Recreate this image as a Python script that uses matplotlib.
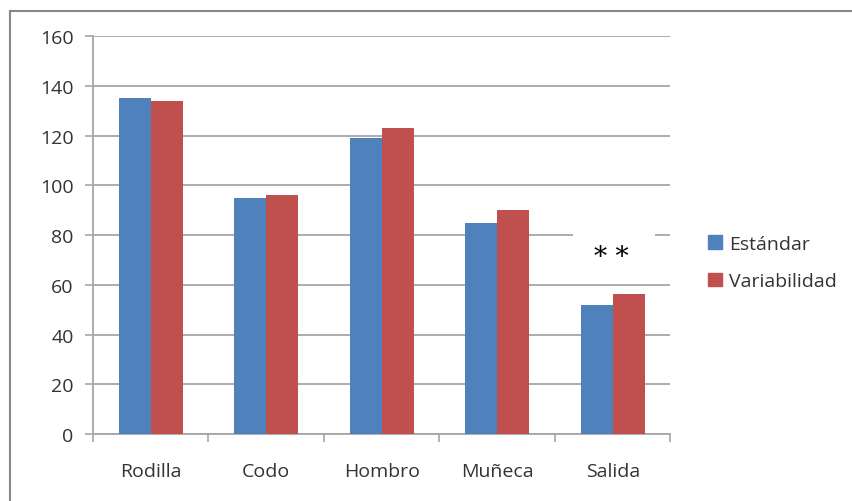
import numpy as np
import matplotlib.pyplot as plt
from matplotlib.patches import Rectangle, Patch
from matplotlib.lines import Line2D

plt.rcParams['font.family'] = ['Open Sans', 'DejaVu Sans']

categories = ['Rodilla', 'Codo', 'Hombro', 'Muñeca', 'Salida']
estandar = [135, 95, 119, 85, 52]
variabilidad = [134, 96, 123, 90, 56.5]
labels = ['Estándar', 'Variabilidad']
colors = ['#4F81BD', '#C0504D']

fig = plt.figure(figsize=(8.53, 5.02), dpi=100)
ax = fig.add_axes([0.109, 0.133, 0.677, 0.793])

x = np.arange(len(categories))
w = 0.278
ax.bar(x - w / 2, estandar, w, color=colors[0], zorder=3)
ax.bar(x + w / 2, variabilidad, w, color=colors[1], zorder=3)

ax.set_xlim(-0.5, 4.5)
ax.set_ylim(0, 160)
ax.set_yticks(np.arange(0, 161, 20))
ax.yaxis.grid(True, color='#a6a6a6', lw=1.3, zorder=0)
ax.set_xticks(x)
ax.set_xticklabels(categories)
ax.set_xticks(np.arange(-0.5, 5, 1), minor=True)
ax.tick_params(axis='x', which='major', length=0, pad=20, labelsize=14, labelcolor='#333333')
ax.tick_params(axis='x', which='minor', length=6, color='#a6a6a6', width=1.2)
ax.tick_params(axis='y', length=6, color='#a6a6a6', width=1.2, pad=8, labelsize=14, labelcolor='#333333')
for s in ['top', 'right']:
    ax.spines[s].set_visible(False)
for s in ['left', 'bottom']:
    ax.spines[s].set_color('#a6a6a6')
    ax.spines[s].set_linewidth(1.3)

# white box with the asterisks over Salida
ax.add_patch(Rectangle((3.66, 65), 0.71, 19, facecolor='white', edgecolor='none', zorder=2))
ax.text(3.99, 71.5, '* *', ha='center', va='center', fontsize=19, family='DejaVu Serif', zorder=4)

handles = [Patch(color=c) for c in colors]
fig.legend(handles, labels, loc='center left', bbox_to_anchor=(0.81, 0.475), frameon=False,
           fontsize=14, handlelength=0.7, handleheight=0.7, handletextpad=0.35,
           labelspacing=1.0, labelcolor='#333333')

# outer frame
fig.add_artist(Line2D([0.012, 0.012], [0.976, 0.0], color='#888888', lw=1.5))
fig.add_artist(Line2D([0.012, 1.0], [0.976, 0.976], color='#888888', lw=1.5))

plt.savefig('out.png', dpi=100)
